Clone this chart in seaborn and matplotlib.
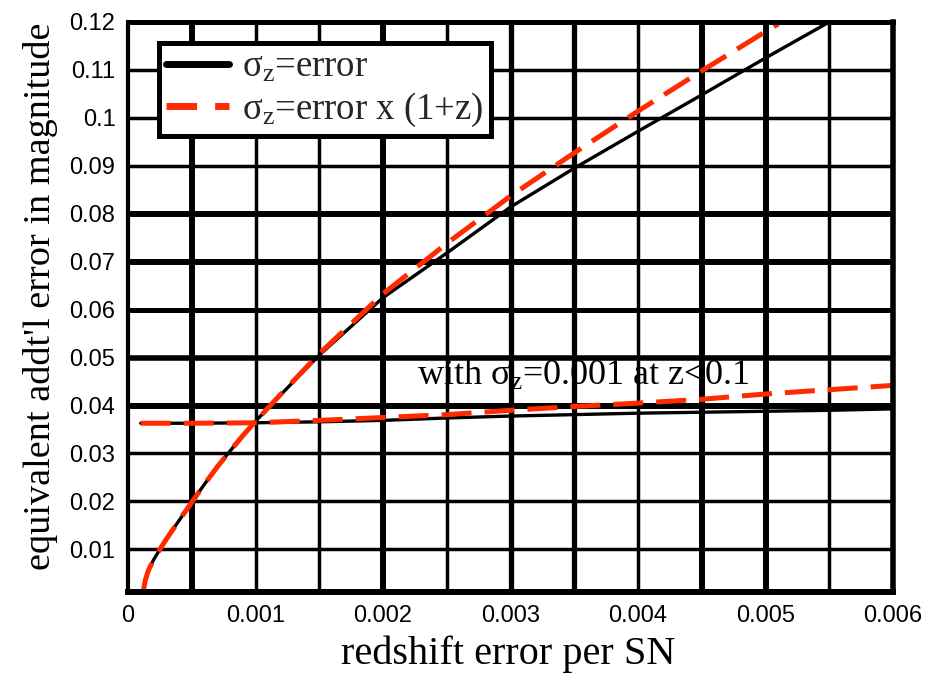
import numpy as np
import pandas as pd
import matplotlib
matplotlib.use("Agg")
import matplotlib.pyplot as plt
from matplotlib.lines import Line2D
import seaborn as sns

# Redshift error per SN and the equivalent additional magnitude error
err_const = [0.00012, 0.000135, 0.00016, 0.0002, 0.00025, 0.0003, 0.0004, 0.0005,
             0.0006, 0.0007, 0.0008, 0.0009, 0.001, 0.0012, 0.0015, 0.002,
             0.0025, 0.003, 0.0035, 0.004, 0.0045, 0.005, 0.0055]
mag_const = [0.0012, 0.0035, 0.0056, 0.0078, 0.0100, 0.0121, 0.0160, 0.0198,
             0.0236, 0.0272, 0.0305, 0.0337, 0.0367, 0.0423, 0.0505, 0.0625,
             0.0718, 0.0814, 0.0895, 0.0972, 0.1048, 0.1125, 0.1200]

err_scaled = [0.00012, 0.000135, 0.00016, 0.0002, 0.00025, 0.0003, 0.0004, 0.0005,
              0.0006, 0.0007, 0.0008, 0.0009, 0.001, 0.0012, 0.0015, 0.002,
              0.0025, 0.003, 0.0035, 0.004, 0.0045, 0.005, 0.0051]
mag_scaled = [0.0012, 0.0035, 0.0056, 0.0078, 0.0100, 0.0121, 0.0160, 0.0198,
              0.0236, 0.0272, 0.0305, 0.0337, 0.0367, 0.0424, 0.0508, 0.0633,
              0.0738, 0.0837, 0.0927, 0.1014, 0.1098, 0.1180, 0.1196]

# Same curves with sigma_z = 0.001 below z = 0.1
err_floor = [0.0001, 0.0005, 0.001, 0.0015, 0.002, 0.0025, 0.003, 0.0035,
             0.004, 0.0045, 0.005, 0.0055, 0.006]
floor_const = [0.0363, 0.0363, 0.0364, 0.0366, 0.0369, 0.0374, 0.0378, 0.0381,
               0.0384, 0.0386, 0.0388, 0.0390, 0.0393]
floor_scaled = [0.0363, 0.0363, 0.0364, 0.0369, 0.0375, 0.0381, 0.0390, 0.0398,
                0.0405, 0.0413, 0.0424, 0.0433, 0.0442]

x_ticks = [0, 0.001, 0.002, 0.003, 0.004, 0.005, 0.006]
x_tick_labels = ["0", "0.001", "0.002", "0.003", "0.004", "0.005", "0.006"]
y_ticks = [0.01, 0.02, 0.03, 0.04, 0.05, 0.06, 0.07, 0.08, 0.09, 0.10, 0.11, 0.12]
y_tick_labels = ["0.01", "0.02", "0.03", "0.04", "0.05", "0.06", "0.07",
                 "0.08", "0.09", "0.1", "0.11", "0.12"]

legend_labels = [r"σ$_\mathrm{z}$=error", r"σ$_\mathrm{z}$=error x (1+z)"]
note_text = r"with σ$_\mathrm{z}$=0.001 at z<0.1"
x_label = "redshift error per SN"
y_label = "equivalent addt'l error in magnitude"

sns.set_theme(style="white")
plt.rcParams["font.family"] = ["Liberation Serif", "DejaVu Serif"]
plt.rcParams["mathtext.fontset"] = "custom"
plt.rcParams["mathtext.rm"] = "Liberation Serif"
plt.rcParams["mathtext.it"] = "Liberation Serif:italic"

RED = "#ff2a00"
DASH = (0, (6, 2.6))

fig = plt.figure(figsize=(9.26, 6.75), dpi=100)
ax = fig.add_axes([128 / 926, 1 - 592 / 675, 765 / 926, 570 / 675])
ax.set_xlim(0, 0.006)
ax.set_ylim(0.0011, 0.12)

# heavy grid: every 0.0005 in x, every 0.01 in y, uneven stroke weights
x_grid = np.arange(1, 12) * 0.0005
x_grid_w = [4.3, 2.5, 2.5, 4.3, 2.5, 3.8, 3.8, 2.5, 4.3, 4.3, 2.5]
for xv, w in zip(x_grid, x_grid_w):
    ax.axvline(xv, color="black", lw=w, zorder=1)
y_grid = np.arange(1, 12) * 0.01
y_grid_w = [2.5, 2.5, 2.5, 4.3, 4.0, 3.6, 4.3, 4.3, 2.5, 2.5, 2.5]
for yv, w in zip(y_grid, y_grid_w):
    ax.axhline(yv, color="black", lw=w, zorder=1)

for side, w in {"left": 3.0, "bottom": 4.3, "top": 3.6, "right": 4.0}.items():
    ax.spines[side].set_visible(True)
    ax.spines[side].set_color("black")
    ax.spines[side].set_linewidth(w)
    ax.spines[side].set_zorder(5)

df_c = pd.DataFrame({"err": err_const, "mag": mag_const})
df_s = pd.DataFrame({"err": err_scaled, "mag": mag_scaled})
df_fc = pd.DataFrame({"err": err_floor, "mag": floor_const})
df_fs = pd.DataFrame({"err": err_floor, "mag": floor_scaled})

sns.lineplot(data=df_c, x="err", y="mag", ax=ax, color="black", lw=2.4,
             sort=False, zorder=3)
sns.lineplot(data=df_fc, x="err", y="mag", ax=ax, color="black", lw=2.4,
             sort=False, zorder=3)
sns.lineplot(data=df_s, x="err", y="mag", ax=ax, color=RED, lw=3.6,
             linestyle=DASH, sort=False, zorder=4)
sns.lineplot(data=df_fs, x="err", y="mag", ax=ax, color=RED, lw=3.6,
             linestyle=DASH, sort=False, zorder=4)

ax.set_xticks(x_ticks)
ax.set_xticklabels(x_tick_labels)
ax.set_yticks(y_ticks)
ax.set_yticklabels(y_tick_labels)
ax.tick_params(axis="both", length=0, labelsize=17, colors="black")
ax.tick_params(axis="x", pad=9)
ax.tick_params(axis="y", pad=9)
for lab in ax.get_xticklabels() + ax.get_yticklabels():
    lab.set_fontfamily(["Liberation Sans", "DejaVu Sans"])

ax.set_xlabel(x_label, fontsize=29, color="black")
ax.xaxis.set_label_coords(0.497, -0.11)
ax.xaxis.label.set_va("center")
ax.set_ylabel(y_label, fontsize=27.5, color="black")
ax.yaxis.set_label_coords(-0.115, 0.519)
ax.yaxis.label.set_va("center")

ax.text(0.00227, 0.0442, note_text, fontsize=26, color="black",
        va="baseline", ha="left", zorder=6)

handles = [Line2D([], [], color="black", lw=5),
           Line2D([], [], color=RED, lw=5, linestyle=(0, (4.4, 2.6)))]
leg = ax.legend(handles, legend_labels, loc="upper left",
                bbox_to_anchor=(0.0405, 0.963), borderaxespad=0,
                fontsize=26.5, handlelength=1.7, handletextpad=0.35,
                labelspacing=0.15, borderpad=0.2, frameon=True,
                fancybox=False, framealpha=1)
leg.get_frame().set_edgecolor("black")
leg.get_frame().set_linewidth(3.6)
leg.set_zorder(10)

fig.savefig("out.png", dpi=100, facecolor="white")
